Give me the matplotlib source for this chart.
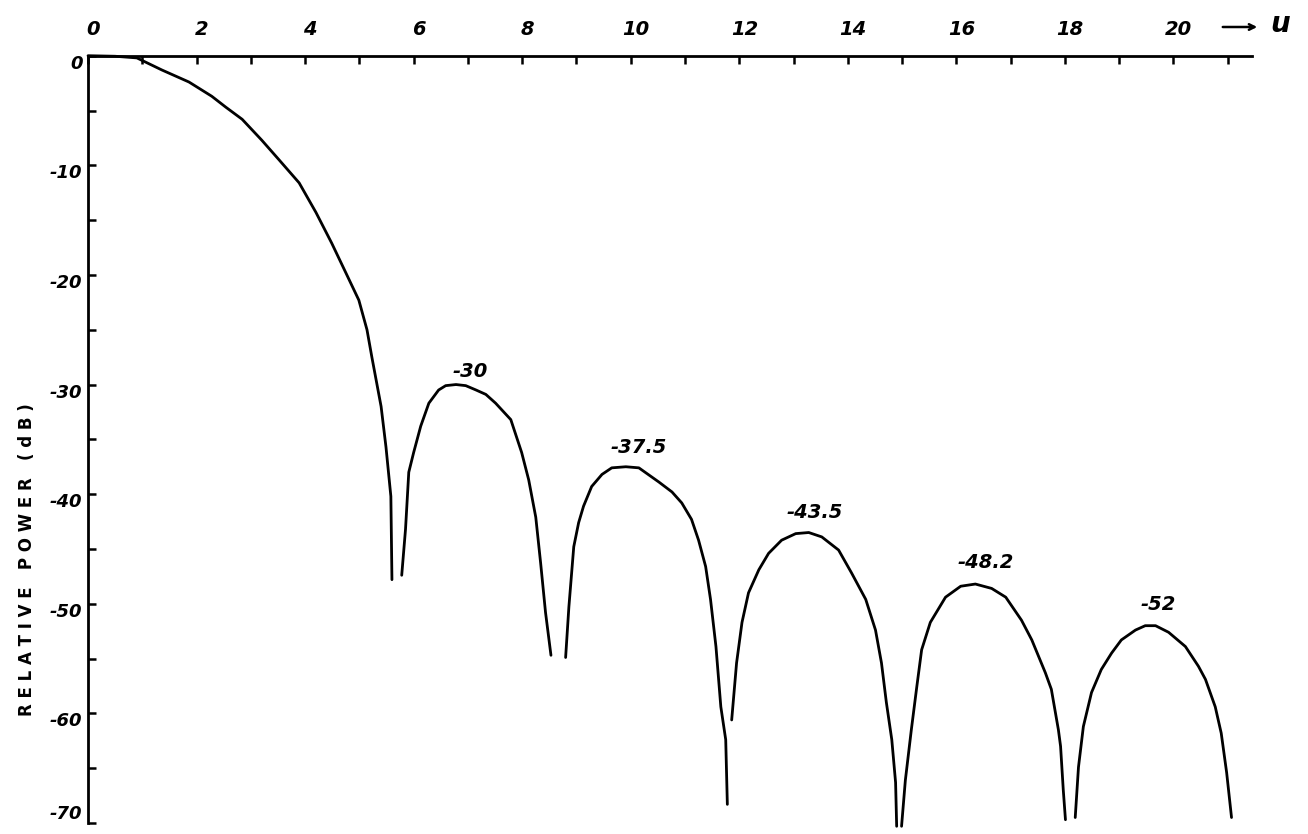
import matplotlib
matplotlib.use("Agg")
import matplotlib.pyplot as plt
import matplotlib.transforms as mtransforms
from matplotlib.ticker import MultipleLocator, FixedLocator

plt.rcParams['axes.unicode_minus'] = False

# main lobe and the five side lobes (u, relative power in dB)
main_u = [0, 0.5, 0.9, 1.36, 1.86, 2.28, 2.54, 2.84, 3.2, 3.52, 3.89, 4.20, 4.49,
          4.75, 4.99, 5.14, 5.23, 5.4, 5.49, 5.58, 5.60]
main_db = [0, -0.05, -0.2, -1.3, -2.4, -3.7, -4.7, -5.8, -7.7, -9.5, -11.6, -14.3, -17.1,
           -19.8, -22.3, -25.0, -27.5, -32.0, -35.7, -40.2, -47.8]

lobe1_u = [5.78, 5.85, 5.91, 6.0, 6.13, 6.28, 6.46, 6.59, 6.78, 6.96, 7.15, 7.33, 7.51,
           7.79, 7.99, 8.12, 8.25, 8.34, 8.43, 8.53]
lobe1_db = [-47.4, -43.2, -38.0, -36.2, -33.8, -31.7, -30.5, -30.1, -30.0, -30.1, -30.5,
            -30.9, -31.7, -33.2, -36.2, -38.7, -42.1, -46.3, -50.8, -54.7]

lobe2_u = [8.80, 8.86, 8.95, 9.04, 9.13, 9.28, 9.47, 9.65, 9.91, 10.15, 10.52, 10.76,
           10.94, 11.12, 11.25, 11.38, 11.47, 11.57, 11.66, 11.75, 11.78]
lobe2_db = [-54.9, -50.3, -44.8, -42.6, -41.1, -39.3, -38.2, -37.6, -37.5, -37.6, -38.9,
            -39.8, -40.8, -42.3, -44.2, -46.6, -49.6, -53.9, -59.4, -62.4, -68.3]

lobe3_u = [11.86, 11.95, 12.05, 12.17, 12.36, 12.54, 12.78, 13.04, 13.28, 13.52, 13.83,
           14.07, 14.33, 14.51, 14.62, 14.71, 14.81, 14.88, 14.90]
lobe3_db = [-60.6, -55.4, -51.7, -49.0, -46.9, -45.4, -44.2, -43.6, -43.5, -43.9, -45.1,
            -47.2, -49.6, -52.4, -55.4, -59.0, -62.4, -66.3, -70.3]

lobe4_u = [14.99, 15.06, 15.17, 15.27, 15.36, 15.52, 15.80, 16.08, 16.35, 16.65, 16.91,
           17.20, 17.39, 17.64, 17.75, 17.88, 17.92, 17.97, 18.01]
lobe4_db = [-70.3, -66.1, -61.5, -57.6, -54.2, -51.7, -49.4, -48.4, -48.2, -48.6, -49.4,
            -51.5, -53.3, -56.3, -57.8, -61.5, -63.0, -67.0, -69.7]

lobe5_u = [18.19, 18.25, 18.34, 18.49, 18.67, 18.86, 19.04, 19.30, 19.48, 19.67, 19.91,
           20.22, 20.46, 20.59, 20.77, 20.88, 20.98, 21.07]
lobe5_db = [-69.5, -64.9, -61.2, -58.1, -56.0, -54.5, -53.3, -52.4, -52.0, -52.0, -52.6,
            -53.9, -55.7, -56.9, -59.4, -61.8, -65.4, -69.5]

# side lobe peak levels and where their labels sit
peak_labels = ["-30", "-37.5", "-43.5", "-48.2", "-52"]
peak_label_u = [7.05, 10.15, 13.39, 16.54, 19.72]
peak_label_db = [-28.8, -35.7, -41.7, -46.2, -50.1]

x_ticks = list(range(0, 22))
x_labels = [str(v) if v % 2 == 0 else "" for v in x_ticks]
y_ticks = [0, -10, -20, -30, -40, -50, -60, -70]
y_labels = ["0", "-10", "-20", "-30", "-40", "-50", "-60", "-70"]

fig = plt.figure(figsize=(13.08, 8.34), dpi=100)
ax = fig.add_axes([0.0673, 0.0132, 0.890, 0.920])

segments = [(main_u, main_db), (lobe1_u, lobe1_db), (lobe2_u, lobe2_db),
            (lobe3_u, lobe3_db), (lobe4_u, lobe4_db), (lobe5_u, lobe5_db)]
for su, sd in segments:
    ax.plot(su, sd, color='black', lw=2.0, solid_capstyle='round',
            solid_joinstyle='round', clip_on=False)

for txt, pu, pd_ in zip(peak_labels, peak_label_u, peak_label_db):
    ax.text(pu, pd_, txt, ha='center', va='center', fontsize=14,
            fontweight='bold', fontstyle='italic')

ax.set_xlim(0, 21.45)
ax.set_ylim(-70, 0)

for side in ['right', 'bottom']:
    ax.spines[side].set_visible(False)
for side in ['top', 'left']:
    ax.spines[side].set_linewidth(2.0)

ax.xaxis.tick_top()
ax.xaxis.set_major_locator(FixedLocator(x_ticks))
ax.set_xticklabels(x_labels)
ax.yaxis.set_major_locator(FixedLocator(y_ticks))
ax.set_yticklabels(y_labels)
ax.yaxis.set_minor_locator(MultipleLocator(5))
ax.tick_params(axis='x', direction='in', length=6, width=1.8, pad=12,
               labelsize=14)
ax.tick_params(axis='y', which='both', direction='in', length=6, width=1.8,
               pad=4, labelsize=13)

# y labels hang a little below their ticks (the last one sits on the edge)
shift_down = mtransforms.ScaledTranslation(0, -6 / 100, fig.dpi_scale_trans)
shift_right = mtransforms.ScaledTranslation(5 / 100, 0, fig.dpi_scale_trans)
for lab, val in zip(ax.get_yticklabels(), y_ticks):
    lab.set_fontweight('bold')
    lab.set_fontstyle('italic')
    if val > -70:
        lab.set_transform(lab.get_transform() + shift_down)
    else:
        lab.set_verticalalignment('bottom')
for lab in ax.get_xticklabels():
    lab.set_fontweight('bold')
    lab.set_fontstyle('italic')
    lab.set_transform(lab.get_transform() + shift_right)

fig.text(0.0206, 0.3285, "R E L A T I V E   P O W E R   ( d B )", rotation=90,
         ha='center', va='center', fontsize=12, fontweight='bold')

# axis arrow and variable name
ax.annotate("", xy=(1260 / 1308, 1 - 27 / 834), xytext=(1220 / 1308, 1 - 27 / 834),
            xycoords='figure fraction', textcoords='figure fraction',
            arrowprops=dict(arrowstyle='->', lw=1.8, color='black'))
fig.text(1280 / 1308, 1 - 24 / 834, "u", ha='center', va='center',
         fontsize=20, fontweight='bold', fontstyle='italic')

fig.savefig("out.png", dpi=100, facecolor='white')
